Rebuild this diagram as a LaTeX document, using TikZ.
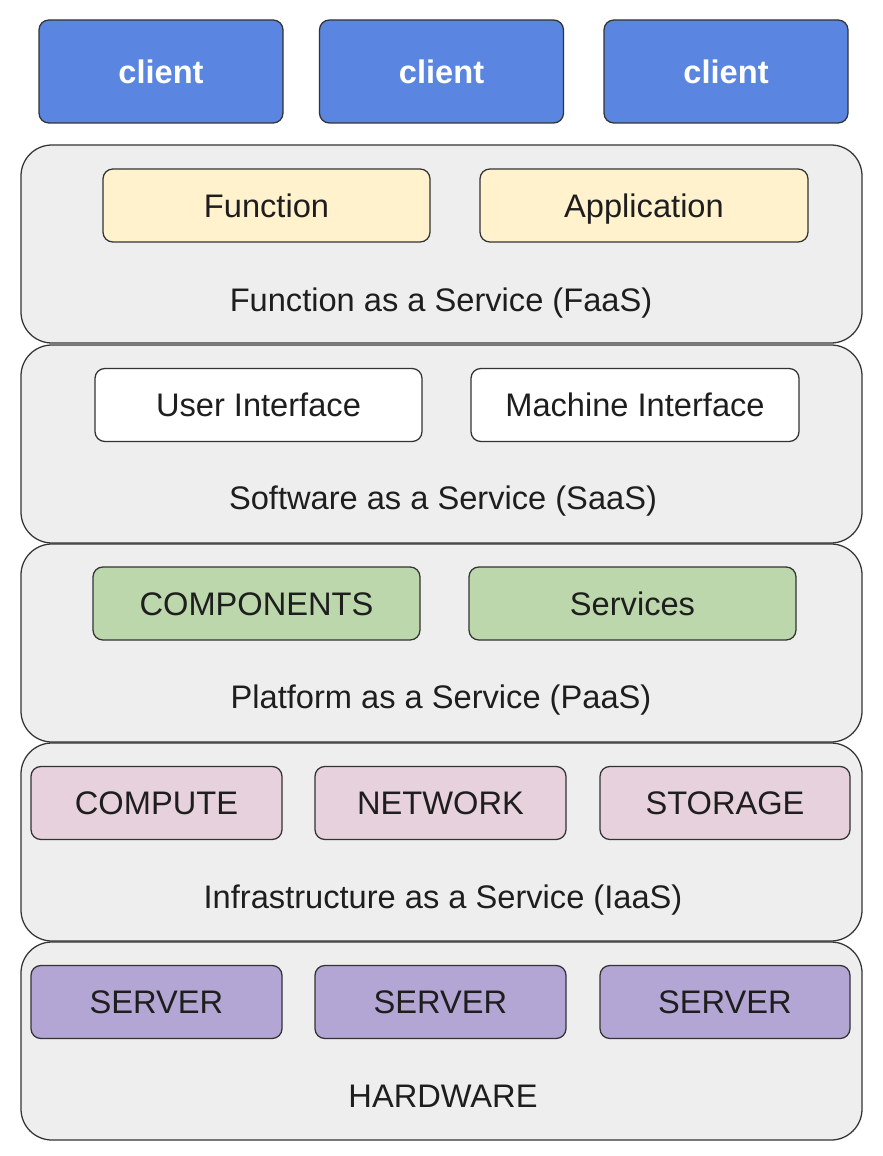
\documentclass[tikz,border=0pt]{standalone}
\usepackage{fontspec}
\setmainfont{Liberation Sans}
\usepackage{xcolor}
\usepackage{tikz}
\usetikzlibrary{positioning}

\definecolor{clientblue}{HTML}{5A85E0}
\definecolor{layergray}{HTML}{EEEEEE}
\definecolor{fnyellow}{HTML}{FFF2CC}
\definecolor{paasgreen}{HTML}{BCD7AB}
\definecolor{iaaspink}{HTML}{E7D1DC}
\definecolor{hwpurple}{HTML}{B3A6D4}
\definecolor{edge}{HTML}{333333}
\definecolor{ink}{HTML}{1E1E1E}

\begin{document}
\begin{tikzpicture}[
  x=0.025cm, y=-0.025cm,
  layer/.style={rectangle, rounded corners=22pt, draw=edge, line width=0.9pt,
                fill=layergray, minimum width=841*0.025cm, minimum height=198*0.025cm},
  item/.style={rectangle, rounded corners=7pt, draw=edge, line width=0.9pt,
               minimum height=73*0.025cm, text centered, text=ink,
               text height=16.6pt, text depth=0pt,
               font=\fontsize{23.2}{27}\selectfont},
  client/.style={item, fill=clientblue, minimum width=244*0.025cm, minimum height=103*0.025cm,
                 text=white, font=\fontsize{23.2}{27}\selectfont\bfseries},
  caption/.style={text=ink, text height=16.6pt, text depth=0pt,
                  font=\fontsize{23.2}{27}\selectfont}
]
\useasboundingbox (0,0) rectangle (882,1156);

% clients
\node[client] (client1) at (161,71.5)  {client};
\node[client] (client2) at (441.5,71.5) {client};
\node[client] (client3) at (726,71.5)  {client};

% layers, top to bottom
\node[layer] (faas) at (441.5,244) {};
\node[layer] (saas) at (441.5,444) {};
\node[layer] (paas) at (441.5,643) {};
\node[layer] (iaas) at (441.5,842) {};
\node[layer] (hw)   at (441.5,1041) {};

% FaaS
\node[item, fill=fnyellow, minimum width=327*0.025cm] (function) at (266.5,205.5) {Function};
\node[item, fill=fnyellow, minimum width=328*0.025cm] (application) at (644,205.5) {Application};
\node[caption] (faaslabel) at (441,300) {Function as a Service (FaaS)};

% SaaS
\node[item, fill=white, minimum width=327*0.025cm] (ui) at (258.5,405) {User Interface};
\node[item, fill=white, minimum width=328*0.025cm] (mi) at (635,405) {Machine Interface};
\node[caption] (saaslabel) at (443,498) {Software as a Service (SaaS)};

% PaaS
\node[item, fill=paasgreen, minimum width=327*0.025cm] (components) at (256.5,603.5) {COMPONENTS};
\node[item, fill=paasgreen, minimum width=327*0.025cm] (services) at (632.5,603.5) {Services};
\node[caption] (paaslabel) at (441,697) {Platform as a Service (PaaS)};

% IaaS
\node[item, fill=iaaspink, minimum width=251*0.025cm] (compute) at (156.5,803) {COMPUTE};
\node[item, fill=iaaspink, minimum width=251*0.025cm] (network) at (440.5,803) {NETWORK};
\node[item, fill=iaaspink, minimum width=250*0.025cm] (storage) at (725,803) {STORAGE};
\node[caption] (iaaslabel) at (443,897) {Infrastructure as a Service (IaaS)};

% hardware
\node[item, fill=hwpurple, minimum width=251*0.025cm] (server1) at (156.5,1002) {SERVER};
\node[item, fill=hwpurple, minimum width=251*0.025cm] (server2) at (440.5,1002) {SERVER};
\node[item, fill=hwpurple, minimum width=250*0.025cm] (server3) at (725,1002) {SERVER};
\node[caption] (hwlabel) at (443,1096) {HARDWARE};
\end{tikzpicture}
\end{document}
